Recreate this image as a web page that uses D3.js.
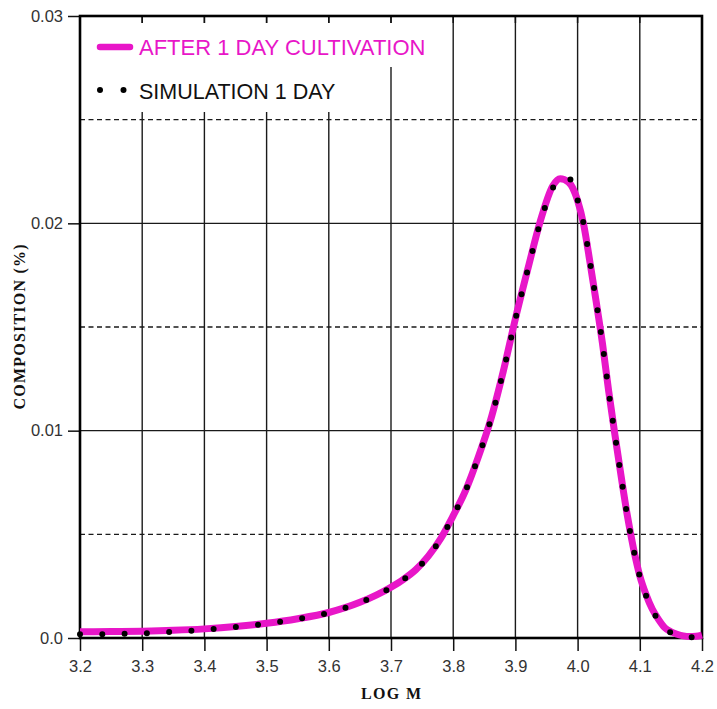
<!DOCTYPE html>
<html>
<head>
<meta charset="utf-8">
<script src="https://cdn.jsdelivr.net/npm/d3@7"></script>
<style>
  html, body { margin: 0; padding: 0; background: #fff; }
  svg { display: block; }
</style>
</head>
<body>
<svg id="chart" width="717" height="709"></svg>
<script>
// ---- data ----
const measuredLogM = [3.20,3.25,3.30,3.35,3.40,3.45,3.50,3.55,3.60,3.65,3.70,3.72,3.74,3.76,3.78,3.80,3.82,3.84,3.86,3.88,3.90,3.92,3.94,3.96,3.972,3.985,4.00,4.01,4.02,4.03,4.04,4.05,4.06,4.07,4.08,4.09,4.10,4.11,4.12,4.13,4.14,4.15,4.16,4.17,4.18,4.19,4.20];
const measuredComp = [0.00030,0.00031,0.00033,0.00037,0.00044,0.00055,0.00071,0.00093,0.00123,0.00172,0.00245,0.00283,0.00330,0.00395,0.00480,0.00590,0.00712,0.00870,0.01050,0.01280,0.01540,0.01780,0.02010,0.02180,0.02215,0.02200,0.02110,0.01990,0.01810,0.01620,0.01420,0.01190,0.00980,0.00780,0.00590,0.00430,0.00300,0.00210,0.00140,0.00090,0.00050,0.00030,0.00018,0.00010,0.00007,0.00008,0.00014];

const simLogM = [3.20,3.25,3.30,3.35,3.40,3.45,3.50,3.55,3.60,3.65,3.70,3.72,3.74,3.76,3.78,3.80,3.82,3.84,3.86,3.88,3.90,3.92,3.94,3.96,3.975,3.988,4.00,4.01,4.02,4.03,4.04,4.05,4.06,4.07,4.08,4.09,4.10,4.11,4.12,4.13,4.14,4.15,4.16,4.17,4.18,4.19,4.20];
const simComp = [0.00018,0.00019,0.00022,0.00030,0.00040,0.00053,0.00069,0.00092,0.00122,0.00171,0.00243,0.00282,0.00329,0.00394,0.00479,0.00589,0.00711,0.00869,0.01049,0.01279,0.01538,0.01778,0.02005,0.02170,0.02220,0.02212,0.02112,0.01992,0.01812,0.01620,0.01418,0.01188,0.00978,0.00776,0.00586,0.00426,0.00296,0.00205,0.00135,0.00085,0.00046,0.00026,0.00014,0.00007,0.00004,0.00005,0.00010];

const xTicks = [3.2,3.3,3.4,3.5,3.6,3.7,3.8,3.9,4.0,4.1,4.2];
const xTickLabels = ["3.2","3.3","3.4","3.5","3.6","3.7","3.8","3.9","4.0","4.1","4.2"];
const yTicks = [0, 0.01, 0.02, 0.03];
const yTickLabels = ["0.0","0.01","0.02","0.03"];
const yDashed = [0.005, 0.015, 0.025];
const seriesNames = ["AFTER 1 DAY CULTIVATION", "SIMULATION 1 DAY"];
const xTitle = "LOG M";
const yTitle = "COMPOSITION (%)";

// ---- layout ----
const L = 80, R = 702, T = 16, B = 638;
const MAGENTA = "#e816c8";
const svg = d3.select("#chart");

const x = d3.scaleLinear().domain([3.2, 4.2]).range([L, R]);
const y = d3.scaleLinear().domain([0, 0.03]).range([B, T]);

// grid: vertical
const g = svg.append("g");
g.selectAll("line.vg").data(xTicks.slice(1, -1)).join("line")
  .attr("x1", d => x(d)).attr("x2", d => x(d))
  .attr("y1", T).attr("y2", B)
  .attr("stroke", "#1a1a1a").attr("stroke-width", 1.4);
// grid: horizontal solid
g.selectAll("line.hg").data(yTicks.slice(1, -1)).join("line")
  .attr("x1", L).attr("x2", R)
  .attr("y1", d => y(d)).attr("y2", d => y(d))
  .attr("stroke", "#1a1a1a").attr("stroke-width", 1.4);
// grid: dashed
g.selectAll("line.hd").data(yDashed).join("line")
  .attr("x1", L).attr("x2", R)
  .attr("y1", d => y(d)).attr("y2", d => y(d))
  .attr("stroke", "#1a1a1a").attr("stroke-width", 1.3)
  .attr("stroke-dasharray", "5,3.5");

// legend background (hides grid)
svg.append("rect").attr("x", L + 2).attr("y", T + 7).attr("width", 360).attr("height", 44).attr("fill", "#fff");
svg.append("rect").attr("x", L + 2).attr("y", T + 51).attr("width", 263).attr("height", 45).attr("fill", "#fff");

// top ticks (inward)
svg.append("g").selectAll("line").data(xTicks.slice(1, -1)).join("line")
  .attr("x1", d => x(d)).attr("x2", d => x(d))
  .attr("y1", T).attr("y2", T + 7)
  .attr("stroke", "#111").attr("stroke-width", 1.5);

// axes
const xAxis = d3.axisBottom(x).tickValues(xTicks).tickFormat((d, i) => xTickLabels[i]).tickSize(13).tickPadding(9);
const yAxis = d3.axisLeft(y).tickValues(yTicks).tickFormat((d, i) => yTickLabels[i]).tickSize(12).tickPadding(5);

const gx = svg.append("g").attr("transform", `translate(0,${B})`).call(xAxis);
const gy = svg.append("g").attr("transform", `translate(${L},0)`).call(yAxis);
[gx, gy].forEach(a => {
  a.select(".domain").remove();
  a.selectAll(".tick line").attr("stroke", "#111").attr("stroke-width", 1.5);
  a.selectAll(".tick text")
    .attr("fill", "#333")
    .style("font-family", "'Liberation Sans', Arial, sans-serif")
    .style("font-size", "16.5px");
});

// frame
svg.append("rect").attr("x", L).attr("y", T).attr("width", R - L).attr("height", B - T)
  .attr("fill", "none").attr("stroke", "#000").attr("stroke-width", 2.6);

// curves
const measured = measuredLogM.map((v, i) => [v, measuredComp[i]]);
const simulated = simLogM.map((v, i) => [v, simComp[i]]);
const line = d3.line().x(d => x(d[0])).y(d => y(d[1])).curve(d3.curveMonotoneX);

svg.append("path").datum(measured).attr("d", line)
  .attr("fill", "none").attr("stroke", MAGENTA).attr("stroke-width", 7)
  .attr("stroke-linejoin", "round");
svg.append("path").datum(simulated).attr("d", line)
  .attr("fill", "none").attr("stroke", "#000").attr("stroke-width", 6)
  .attr("stroke-linecap", "round").attr("stroke-dasharray", "0,22.3");

// legend
svg.append("line").attr("x1", 100).attr("x2", 130).attr("y1", 47).attr("y2", 47)
  .attr("stroke", MAGENTA).attr("stroke-width", 6.5).attr("stroke-linecap", "round");
svg.append("text").attr("x", 139).attr("y", 55).text(seriesNames[0])
  .attr("fill", MAGENTA).style("font-family", "'Liberation Sans', Arial, sans-serif").style("font-size", "22px");
svg.append("g").selectAll("circle").data([100, 123.5]).join("circle")
  .attr("cx", d => d).attr("cy", 90).attr("r", 3).attr("fill", "#000");
svg.append("text").attr("x", 139).attr("y", 99).text(seriesNames[1])
  .attr("fill", "#111").style("font-family", "'Liberation Sans', Arial, sans-serif").style("font-size", "21.5px");

// axis titles
svg.append("text").attr("x", (L + R) / 2).attr("y", 699).attr("text-anchor", "middle")
  .attr("textLength", 60).attr("lengthAdjust", "spacing")
  .style("font-family", "'Liberation Serif', 'DejaVu Serif', serif").style("font-weight", "bold").style("font-size", "16px")
  .attr("fill", "#111").text(xTitle);
svg.append("text").attr("transform", `translate(25,327) rotate(-90)`).attr("text-anchor", "middle")
  .attr("textLength", 165).attr("lengthAdjust", "spacing")
  .style("font-family", "'Liberation Serif', 'DejaVu Serif', serif").style("font-weight", "bold").style("font-size", "16px")
  .attr("fill", "#111").text(yTitle);
</script>
</body>
</html>
